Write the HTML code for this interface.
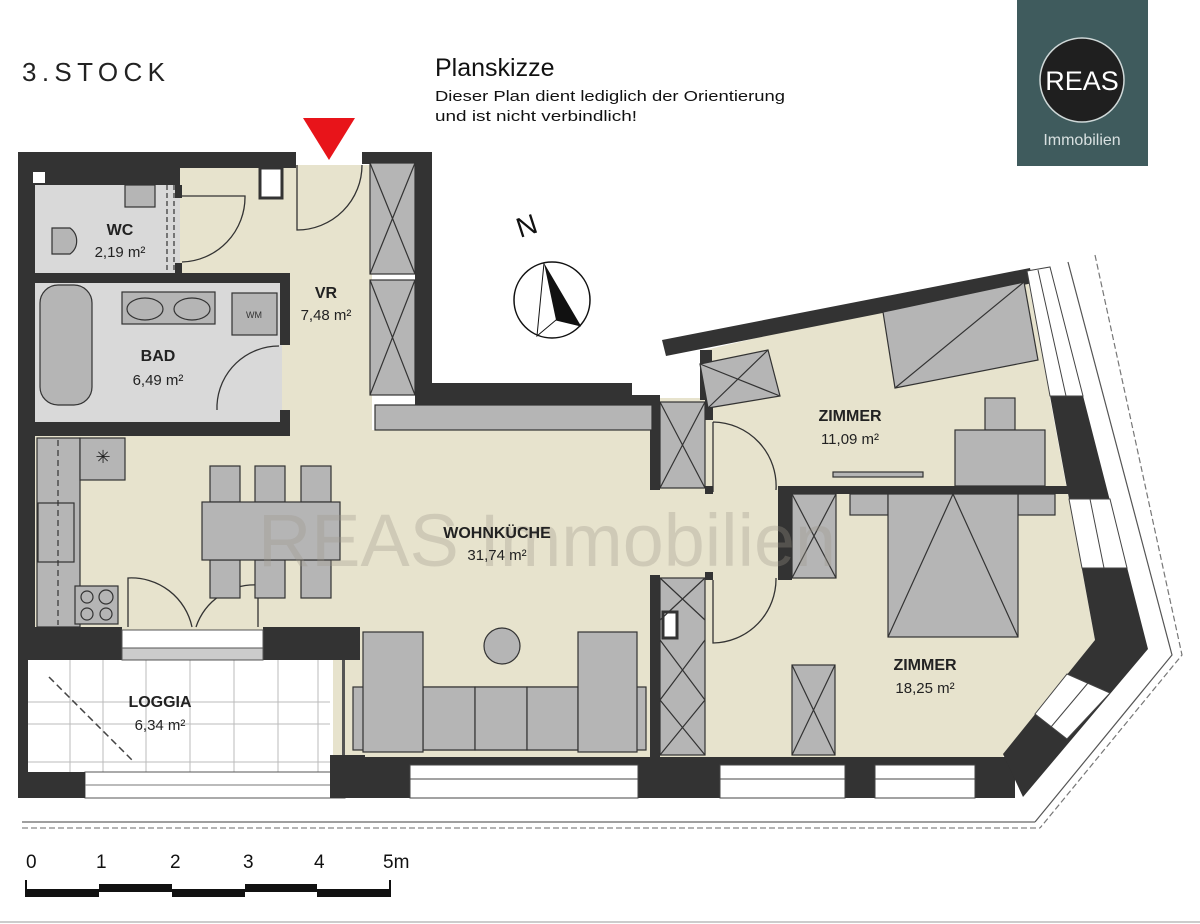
<!DOCTYPE html>
<html><head><meta charset="utf-8"><style>
html,body{margin:0;padding:0;background:#fff;}
svg{display:block}
text{font-family:"Liberation Sans Narrow","Liberation Sans",sans-serif;}
</style></head><body>
<svg width="1200" height="924" viewBox="0 0 1200 924" xmlns="http://www.w3.org/2000/svg">
<rect width="1200" height="924" fill="#fff"/>
<text x="22" y="81" font-size="26" fill="#222" textLength="143" lengthAdjust="spacing" style="font-family:'Liberation Sans',sans-serif">3.STOCK</text>
<text x="435" y="76" font-size="25" fill="#111" style="font-family:'Liberation Sans',sans-serif">Planskizze</text>
<text x="435" y="101" font-size="14.5" fill="#111" textLength="350" lengthAdjust="spacingAndGlyphs">Dieser Plan dient lediglich der Orientierung</text>
<text x="435" y="121" font-size="14.5" fill="#111" textLength="202" lengthAdjust="spacingAndGlyphs">und ist nicht verbindlich!</text>
<rect x="1017" y="0" width="131" height="166" fill="#3f5b5d"/>
<circle cx="1082" cy="80" r="42" fill="#1f1f1f" stroke="#cfd8d8" stroke-width="1.5"/>
<text x="1082" y="90" font-size="27" fill="#fff" text-anchor="middle" style="font-family:'Liberation Sans',sans-serif">REAS</text>
<text x="1082" y="145" font-size="16" fill="#d8e0e0" text-anchor="middle" style="font-family:'Liberation Sans',sans-serif">Immobilien</text>
<polygon points="303,118 355,118 329,160" fill="#e8141a"/>
<text x="0" y="0" font-size="28" fill="#111" transform="translate(520,238) rotate(-18)" style="font-family:'Liberation Sans',sans-serif">N</text>
<ellipse cx="552" cy="300" rx="38" ry="38" fill="#fff" stroke="#111" stroke-width="1.5"/>
<polygon points="544,263 556,320 581,326" fill="#111"/>
<polyline points="544,263 537,336 556,320 581,326" fill="none" stroke="#111" stroke-width="1"/>

<polyline points="1068,262 1172,655 1035,822" fill="none" stroke="#555" stroke-width="1.2"/>
<polyline points="1095,255 1182,655 1040,828" fill="none" stroke="#777" stroke-width="1.2" stroke-dasharray="6,3"/>
<line x1="22" y1="822" x2="1035" y2="822" stroke="#666" stroke-width="1.2"/>
<line x1="22" y1="828" x2="1040" y2="828" stroke="#888" stroke-width="1.2" stroke-dasharray="6,3"/>

<g fill="#e7e3cd">
<rect x="180" y="165" width="192" height="270"/>
<rect x="28" y="430" width="628" height="328"/>
<polygon points="650,398 705,398 705,350 1027,275 1095,640 1003,757 650,757"/>
</g>
<rect x="35" y="170" width="145" height="103" fill="#d9d9d9"/>
<rect x="35" y="283" width="247" height="140" fill="#d9d9d9"/>
<rect x="28" y="660" width="305" height="112" fill="#fff"/>
<g stroke="#bbb" stroke-width="1">
<line x1="70" y1="660" x2="70" y2="772"/><line x1="103" y1="660" x2="103" y2="772"/><line x1="146" y1="660" x2="146" y2="772"/><line x1="190" y1="660" x2="190" y2="772"/><line x1="234" y1="660" x2="234" y2="772"/><line x1="278" y1="660" x2="278" y2="772"/><line x1="318" y1="660" x2="318" y2="772"/>
<line x1="28" y1="702" x2="330" y2="702"/><line x1="28" y1="724" x2="330" y2="724"/><line x1="28" y1="762" x2="330" y2="762"/>
</g>
<line x1="49" y1="677" x2="134" y2="762" stroke="#444" stroke-width="1.5" stroke-dasharray="7,4"/>
<rect x="85" y="772" width="260" height="26" fill="#fff" stroke="#555" stroke-width="1"/>
<line x1="85" y1="785" x2="345" y2="785" stroke="#777"/>

<g fill="#333">
<rect x="18" y="152" width="17" height="508"/>
<rect x="18" y="660" width="10" height="138"/>
<rect x="18" y="772" width="67" height="26"/>
<rect x="18" y="152" width="278" height="16"/>
<rect x="35" y="168" width="145" height="17"/>
<rect x="28" y="273" width="262" height="10"/>
<rect x="280" y="273" width="10" height="72"/>
<rect x="280" y="410" width="10" height="26"/>
<rect x="18" y="422" width="272" height="14"/>
<rect x="175" y="185" width="7" height="13"/>
<rect x="175" y="263" width="7" height="10"/>
<rect x="362" y="152" width="70" height="12"/>
<rect x="415" y="152" width="17" height="253"/>
<rect x="415" y="383" width="217" height="22"/>
<rect x="632" y="395" width="28" height="10"/>
<rect x="650" y="400" width="10" height="90"/>
<rect x="650" y="575" width="10" height="185"/>
<rect x="705" y="398" width="8" height="22"/>
<rect x="700" y="350" width="12" height="50"/>
<rect x="705" y="486" width="8" height="8"/>
<rect x="705" y="572" width="8" height="8"/>
<rect x="778" y="486" width="290" height="8"/>
<rect x="778" y="486" width="14" height="94"/>
<rect x="22" y="627" width="100" height="33"/>
<rect x="263" y="627" width="97" height="33"/>
<rect x="330" y="755" width="35" height="43"/>
<rect x="345" y="757" width="670" height="41"/>
<polygon points="662,340 1030,268 1033,283 666,356"/>
<polygon points="1027,271 1050,267 1148,649 1023,797 1003,754 1095,640"/>
</g>
<rect x="342" y="660" width="3" height="95" fill="#555"/>
<g fill="#fff" stroke="#444" stroke-width="1">
<polygon points="1027,271 1050,267 1083,396 1050,396"/>
<polygon points="1069,499 1110,499 1127,568 1082,568"/>
<polygon points="1067,674 1110,693 1067,739 1035,714"/>
</g>
<line x1="1038" y1="270" x2="1066" y2="396" stroke="#444"/>
<line x1="1090" y1="499" x2="1104" y2="568" stroke="#444"/>
<line x1="1088" y1="683" x2="1051" y2="727" stroke="#444"/>
<g fill="#fff" stroke="#444" stroke-width="1">
<rect x="410" y="765" width="228" height="33"/>
<rect x="720" y="765" width="125" height="33"/>
<rect x="875" y="765" width="100" height="33"/>
</g>
<g stroke="#444"><line x1="410" y1="779" x2="638" y2="779"/><line x1="720" y1="779" x2="845" y2="779"/><line x1="875" y1="779" x2="975" y2="779"/></g>
<rect x="122" y="630" width="141" height="30" fill="#fff" stroke="#555"/>
<rect x="122" y="648" width="141" height="12" fill="#ccc" stroke="#555"/>
<rect x="260" y="168" width="22" height="30" fill="#fff" stroke="#333" stroke-width="3"/>
<rect x="33" y="172" width="12" height="11" fill="#fff"/>

<g fill="none" stroke="#333" stroke-width="1.3">
<path d="M297,165 L297,230 A65,65 0 0 0 362,165"/>
<path d="M182,196 L245,196 A65,65 0 0 1 182,262"/>
<path d="M217,410 L217,405 A62,62 0 0 1 279,346"/>
<path d="M713,422 L713,492 M713,422 A64,64 0 0 1 776,490"/>
<path d="M713,580 L713,643 A64,64 0 0 0 776,578"/>
<path d="M128,627 L128,578 A62,62 0 0 1 192,627"/>
<path d="M258,627 L258,585 A62,62 0 0 0 196,627"/>
</g>

<g fill="#b5b5b5" stroke="#333" stroke-width="1.2">
<rect x="125" y="185" width="30" height="22"/>
<path d="M52,228 L70,228 A16,16 0 0 1 70,254 L52,254 Z"/>
<rect x="40" y="285" width="52" height="120" rx="18"/>
<rect x="122" y="292" width="93" height="32"/>
<rect x="232" y="293" width="45" height="42"/>
<rect x="370" y="163" width="45" height="111"/>
<rect x="370" y="280" width="45" height="115"/>
<rect x="375" y="405" width="277" height="25"/>
<rect x="37" y="438" width="43" height="189"/>
<rect x="80" y="438" width="45" height="42"/>
<rect x="38" y="503" width="36" height="59"/>
<rect x="75" y="586" width="43" height="38"/>
<rect x="210" y="466" width="30" height="36"/><rect x="255" y="466" width="30" height="36"/><rect x="301" y="466" width="30" height="36"/>
<rect x="210" y="560" width="30" height="38"/><rect x="255" y="560" width="30" height="38"/><rect x="301" y="560" width="30" height="38"/>
<rect x="202" y="502" width="138" height="58"/>
<rect x="353" y="687" width="293" height="63"/>
<rect x="423" y="687" width="52" height="63"/><rect x="475" y="687" width="52" height="63"/><rect x="527" y="687" width="51" height="63"/>
<rect x="363" y="632" width="60" height="120"/>
<rect x="578" y="632" width="59" height="120"/>
<circle cx="502" cy="646" r="18"/>
<rect x="660" y="402" width="45" height="86"/>
<rect x="660" y="578" width="45" height="177"/>
<rect x="792" y="494" width="44" height="84"/>
<rect x="792" y="665" width="43" height="90"/>
<polygon points="700,364 768,350 780,396 708,408"/>
<polygon points="883,312 1024,282 1038,360 895,388"/>
<rect x="985" y="398" width="30" height="32"/>
<rect x="955" y="430" width="90" height="56"/>
<rect x="833" y="472" width="90" height="5"/>
<rect x="850" y="494" width="38" height="21"/>
<rect x="1018" y="494" width="37" height="21"/>
<rect x="888" y="494" width="130" height="143"/>
</g>
<rect x="663" y="612" width="14" height="26" fill="#fff" stroke="#333" stroke-width="3"/>
<g fill="none" stroke="#333" stroke-width="1.2">
<ellipse cx="145" cy="309" rx="18" ry="11"/><ellipse cx="192" cy="309" rx="18" ry="11"/>
<circle cx="87" cy="597" r="6"/><circle cx="106" cy="597" r="7"/><circle cx="87" cy="614" r="6"/><circle cx="106" cy="614" r="6"/>
<line x1="58" y1="440" x2="58" y2="625" stroke-dasharray="6,4"/>
<line x1="167" y1="185" x2="167" y2="273" stroke-dasharray="5,3"/>
<line x1="174" y1="185" x2="174" y2="273" stroke-dasharray="5,3"/>
<path d="M370,163 L415,274 M415,163 L370,274 M370,280 L415,395 M415,280 L370,395"/>
<path d="M660,402 L705,488 M705,402 L660,488"/>
<path d="M660,578 L705,620 M705,578 L660,620 M660,640 L705,700 M705,640 L660,700 M660,700 L705,755 M705,700 L660,755"/>
<path d="M792,494 L836,578 M836,494 L792,578"/>
<path d="M792,665 L835,755 M835,665 L792,755"/>
<path d="M700,364 L780,396 M768,350 L708,408"/>
<path d="M895,388 L1024,282"/>
<path d="M888,637 L953,494 L1018,637"/>
</g>
<text x="103" y="463" font-size="18" fill="#222" text-anchor="middle">✳</text>
<text x="254" y="318" font-size="9" fill="#333" text-anchor="middle">WM</text>

<text x="258" y="566" font-size="74" fill="#9a968a" fill-opacity="0.32" textLength="578" lengthAdjust="spacingAndGlyphs" style="font-family:'Liberation Sans',sans-serif">REAS Immobilien</text>

<g fill="#222" text-anchor="middle">
<text x="120" y="235" font-size="16" font-weight="bold">WC</text>
<text x="120" y="257" font-size="15">2,19 m²</text>
<text x="158" y="361" font-size="16" font-weight="bold">BAD</text>
<text x="158" y="385" font-size="15">6,49 m²</text>
<text x="326" y="298" font-size="16" font-weight="bold">VR</text>
<text x="326" y="320" font-size="15">7,48 m²</text>
<text x="497" y="538" font-size="16" font-weight="bold">WOHNKÜCHE</text>
<text x="497" y="560" font-size="15">31,74 m²</text>
<text x="850" y="421" font-size="16" font-weight="bold">ZIMMER</text>
<text x="850" y="444" font-size="15">11,09 m²</text>
<text x="925" y="670" font-size="16" font-weight="bold">ZIMMER</text>
<text x="925" y="693" font-size="15">18,25 m²</text>
<text x="160" y="707" font-size="16" font-weight="bold">LOGGIA</text>
<text x="160" y="730" font-size="15">6,34 m²</text>
</g>

<g font-size="19" fill="#111" style="font-family:'Liberation Sans',sans-serif">
<text x="26" y="868">0</text><text x="96" y="868">1</text><text x="170" y="868">2</text><text x="243" y="868">3</text><text x="314" y="868">4</text><text x="383" y="868">5m</text>
</g>
<g fill="#111">
<rect x="26" y="889" width="73" height="8"/>
<rect x="99" y="884" width="73" height="8"/>
<rect x="172" y="889" width="73" height="8"/>
<rect x="245" y="884" width="72" height="8"/>
<rect x="317" y="889" width="73" height="8"/>
<rect x="25" y="880" width="2" height="17"/>
<rect x="389" y="880" width="2" height="17"/>
</g>
<line x1="0" y1="922" x2="1200" y2="922" stroke="#999" stroke-width="1"/>
</svg>
</body></html>
